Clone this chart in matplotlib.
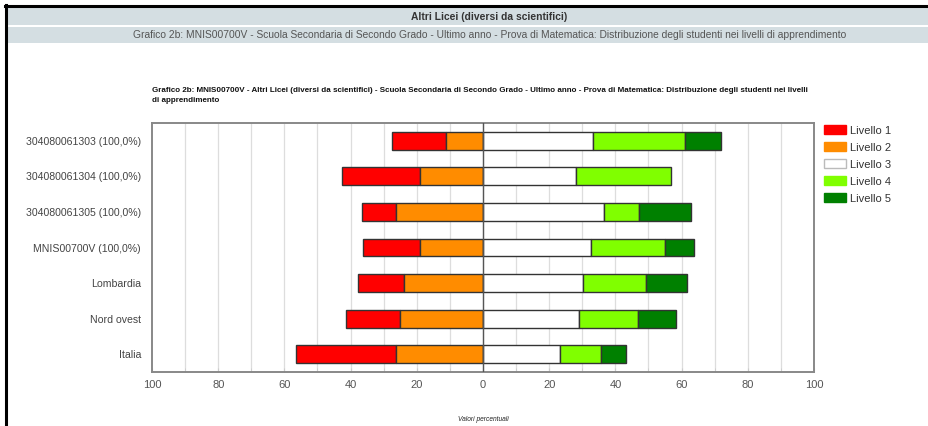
import matplotlib
matplotlib.use("Agg")
import matplotlib.pyplot as plt
from matplotlib.patches import Rectangle, Patch
from matplotlib.lines import Line2D

plt.rcParams['font.family'] = ['Liberation Sans', 'DejaVu Sans']

categories = ["304080061303 (100,0%)", "304080061304 (100,0%)", "304080061305 (100,0%)",
              "MNIS00700V (100,0%)", "Lombardia", "Nord ovest", "Italia"]
livello1 = [16.3, 23.6, 10.2, 17.1, 14.0, 16.1, 30.4]
livello2 = [11.1, 19.1, 26.4, 19.1, 23.8, 25.2, 26.2]
livello3 = [33.2, 28.2, 36.6, 32.7, 30.3, 29.1, 23.2]
livello4 = [27.7, 28.5, 10.6, 22.2, 18.8, 17.8, 12.6]
livello5 = [11.0, 0.0, 15.5, 8.7, 12.6, 11.3, 7.3]
level_names = ["Livello 1", "Livello 2", "Livello 3", "Livello 4", "Livello 5"]
colors = ["#ff0000", "#ff8c00", "#ffffff", "#80ff00", "#008000"]
xticks = [-100, -80, -60, -40, -20, 0, 20, 40, 60, 80, 100]

W, H = 929, 426
fig = plt.figure(figsize=(W / 100, H / 100), dpi=100)

def fx(px):
    return px / W

def fy(py):
    return 1 - py / H

# page frame & header bars
fig.add_artist(Rectangle((fx(7), fy(25)), fx(929) - fx(7), (25 - 8) / H,
                         transform=fig.transFigure, facecolor="#d4dee2", edgecolor="none"))
fig.add_artist(Rectangle((fx(7), fy(43)), fx(929) - fx(7), (43 - 27) / H,
                         transform=fig.transFigure, facecolor="#d4dee2", edgecolor="none"))
fig.add_artist(Line2D([fx(5), fx(929)], [fy(6), fy(6)], transform=fig.transFigure,
                      color="black", lw=2.2))
fig.add_artist(Line2D([fx(6), fx(6)], [fy(5), fy(426)], transform=fig.transFigure,
                      color="black", lw=2.2))
fig.text(fx(489), fy(16.5), "Altri Licei (diversi da scientifici)", ha="center", va="center",
         fontsize=7.4, fontweight="bold", color="#333333")
fig.text(fx(490), fy(35), "Grafico 2b: MNIS00700V - Scuola Secondaria di Secondo Grado - Ultimo anno - "
         "Prova di Matematica: Distribuzione degli studenti nei livelli di apprendimento",
         ha="center", va="center", fontsize=7.35, color="#555555")

fig.text(fx(152), fy(87), "Grafico 2b: MNIS00700V - Altri Licei (diversi da scientifici) - Scuola Secondaria di "
         "Secondo Grado - Ultimo anno - Prova di Matematica: Distribuzione degli studenti nei livelli\n"
         "di apprendimento", ha="left", va="top", fontsize=5.75, fontweight="bold",
         color="#111111", linespacing=1.7)

ax = fig.add_axes([fx(152), fy(372), fx(814) - fx(152), (372 - 123) / H])
y = list(range(len(categories)))
h = 0.5
ec = "#333333"
left1 = [-(a + b) for a, b in zip(livello1, livello2)]
left2 = [-b for b in livello2]
ax.barh(y, livello1, left=left1, height=h, color=colors[0], edgecolor=ec, lw=1, zorder=3)
ax.barh(y, livello2, left=left2, height=h, color=colors[1], edgecolor=ec, lw=1, zorder=3)
ax.barh(y, livello3, left=0, height=h, color=colors[2], edgecolor=ec, lw=1, zorder=3)
left4 = livello3
ax.barh(y, livello4, left=left4, height=h, color=colors[3], edgecolor=ec, lw=1, zorder=3)
left5 = [a + b for a, b in zip(livello3, livello4)]
for yi, w, l in zip(y, livello5, left5):
    if w > 0:
        ax.barh(yi, w, left=l, height=h, color=colors[4], edgecolor=ec, lw=1, zorder=3)

ax.set_xlim(-100, 100)
ax.set_ylim(len(categories) - 0.5, -0.5)
ax.set_yticks(y)
ax.set_yticklabels(categories, fontsize=7.6, color="#444444")
ax.set_xticks(xticks)
ax.set_xticklabels([str(abs(t)) for t in xticks], fontsize=8, color="#555555")
ax.set_xticks(range(-90, 100, 20), minor=True)
ax.tick_params(axis="y", length=0, pad=8)
ax.tick_params(axis="x", which="both", length=3, color="#cccccc", pad=6, direction="in")
for t in range(-90, 100, 10):
    ax.axvline(t, color="#dddddd", lw=0.9, zorder=1)
ax.axvline(0, color="#555555", lw=1.0, zorder=4)
for s in ax.spines.values():
    s.set_color("#888888")
    s.set_linewidth(1.4)

ax.text(0.5, -0.19, "Valori percentuali", transform=ax.transAxes, ha="center", va="center",
        fontsize=4.8, style="italic", color="#222222")

handles = [Patch(facecolor=c, edgecolor="#bbbbbb" if c == "#ffffff" else c) for c in colors]
fig.legend(handles, level_names, loc="upper left", bbox_to_anchor=(fx(820), fy(121)),
           frameon=False, fontsize=8, handlelength=1.9, handleheight=0.8,
           labelspacing=0.62, handletextpad=0.4, borderaxespad=0, labelcolor="#333333")

fig.savefig("out.png", dpi=100)
